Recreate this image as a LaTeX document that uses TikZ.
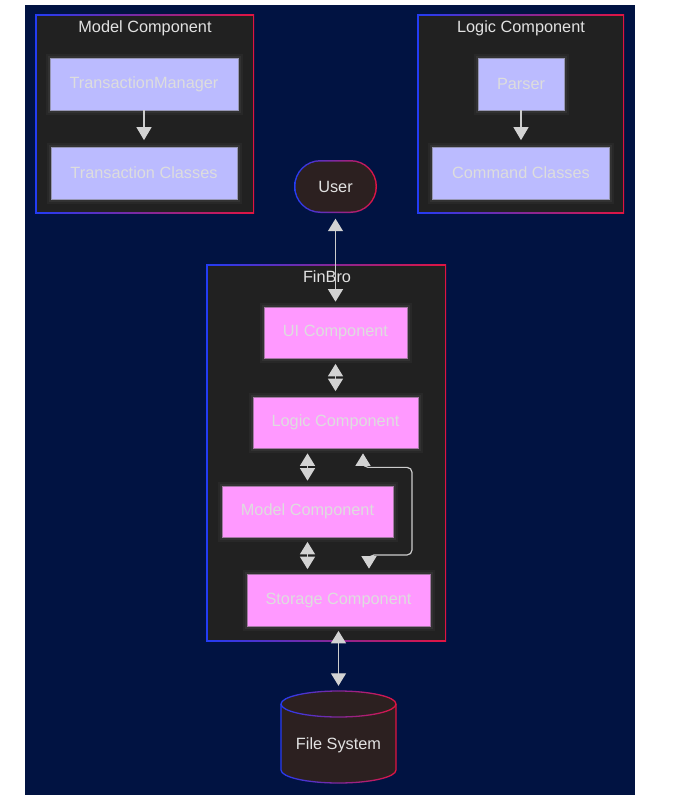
\documentclass[tikz,border=0pt]{standalone}
\usepackage{fontspec}
\setmainfont{Liberation Sans}
\usetikzlibrary{arrows.meta}
\definecolor{navybg}{RGB}{1,19,66}
\definecolor{clfill}{RGB}{33,33,33}
\definecolor{cb}{RGB}{35,60,245}
\definecolor{cr}{RGB}{225,20,65}
\definecolor{lav}{RGB}{187,187,255}
\definecolor{pink}{RGB}{255,153,255}
\definecolor{ntext}{RGB}{221,221,221}
\definecolor{ttext}{RGB}{226,226,226}
\definecolor{darkfill}{RGB}{44,32,32}
\definecolor{arrc}{RGB}{204,204,204}
\definecolor{tipc}{RGB}{211,211,211}
\definecolor{subdraw}{RGB}{150,150,180}
\definecolor{pinkdraw}{RGB}{165,120,165}
\begin{document}
\begin{tikzpicture}[x=1pt,y=-1pt,
  txt/.style={font=\fontsize{16.3}{19}\selectfont, inner sep=0pt},
  glow/.style={preaction={draw=white, draw opacity=0.035, line width=9pt},
               preaction={draw=white, draw opacity=0.05, line width=5pt}},
  subbox/.style={txt, glow, draw=subdraw, fill=lav, text=ntext, line width=0.7pt, minimum height=52pt},
  pinkbox/.style={txt, glow, draw=pinkdraw, fill=pink, text=ntext, line width=0.7pt, minimum height=51pt},
  title/.style={txt, text=ttext},
  arr/.style={draw=arrc, line width=1.2pt, fill=none,
    {Triangle[length=12.5pt,width=15pt,fill=tipc,color=tipc]}-{Triangle[length=12.5pt,width=15pt,fill=tipc,color=tipc]}},
  arrone/.style={draw=arrc, line width=1.2pt,
    -{Triangle[length=13pt,width=15pt,fill=tipc,color=tipc]}}
]
\useasboundingbox (0,0) rectangle (676,811);
\fill[white] (0,0) rectangle (676,811);
\fill[navybg] (25,5) rectangle (635,795);

% clusters
\foreach \xa/\ya/\xb/\yb in {35/14/254/213, 417/14/624/213, 206/264/446/641} {
  \shade[left color=cb, right color=cr] (\xa,\ya) rectangle (\xb,\yb);
  \fill[clfill] (\xa+1.5,\ya+1.5) rectangle (\xb-1.5,\yb-1.5);
}
\node[title] (tmodel) at (145,28) {Model Component};
\node[title] (tlogic) at (521,28) {Logic Component};
\node[title] (tfin) at (327,277) {FinBro};

% model component cluster
\node[subbox, minimum width=188pt] (tm) at (144,84) {TransactionManager};
\node[subbox, minimum width=186pt] (tc) at (144,173) {Transaction Classes};
\draw[arrone, shorten >=6.5pt] (tm) -- (tc);

% logic component cluster
\node[subbox, minimum width=86pt] (parser) at (521,84) {Parser};
\node[subbox, minimum width=177pt] (cc) at (521,173) {Command Classes};
\draw[arrone, shorten >=6.5pt] (parser) -- (cc);

% user
\shade[left color=cb, right color=cr, rounded corners=26.5pt] (294,160) rectangle (377,213);
\fill[darkfill, rounded corners=25pt] (295.5,161.5) rectangle (375.5,211.5);
\node[txt, text=ttext, minimum width=83pt, minimum height=53pt] (user) at (335.5,187) {User};

% FinBro nodes
\node[pinkbox, minimum width=143pt] (ui) at (335.5,332.5) {UI Component};
\node[pinkbox, minimum width=165pt] (logic) at (335.5,422.5) {Logic Component};
\node[pinkbox, minimum width=171pt] (model) at (307.5,511.5) {Model Component};
\node[pinkbox, minimum width=183pt, minimum height=52pt] (storage) at (338.5,600) {Storage Component};

% file system cylinder (gradient outline by strips)
\foreach \i in {0,...,59} {
  \pgfmathtruncatemacro\p{100-\i*100/59}
  \begin{scope}
    \clip (279+\i*2,680) rectangle (281+\i*2,790);
    \draw[draw=cb!\p!cr, line width=1.3pt, fill=darkfill]
      (281,704) -- (281,770) arc[start angle=180, end angle=360, x radius=57.5pt, y radius=13pt]
      -- (396,704) arc[start angle=0, end angle=180, x radius=57.5pt, y radius=13pt] -- cycle;
    \draw[draw=cb!\p!cr, line width=1.3pt]
      (281,704) arc[start angle=180, end angle=360, x radius=57.5pt, y radius=13pt];
  \end{scope}
}
\node[txt, text=ttext, minimum width=115pt, minimum height=108pt] (fs) at (338.5,745) {File System};

% connectors
\draw[arr, shorten <=5pt, shorten >=5pt] (user) -- (ui);
\draw[arr, shorten <=5.5pt, shorten >=5.5pt] (ui) -- (logic);
\draw[arr, shorten <=5pt, shorten >=5pt] (model.north |- logic.south) -- (model.north);
\draw[arr, shorten <=4.5pt, shorten >=4.5pt] (model.south) -- (model.south |- storage.north);
\coordinate (lsA) at ([xshift=27.5pt]logic.south);
\coordinate (lsB) at ([xshift=30.5pt]storage.north);
\draw[arr, rounded corners=5pt, shorten <=5pt, shorten >=5pt]
  (lsA) -- ++(0,19) -| (412,555) -| (lsB);
\draw[arr, shorten <=4.5pt, shorten >=5pt] (storage) -- (fs);
\end{tikzpicture}
\end{document}
